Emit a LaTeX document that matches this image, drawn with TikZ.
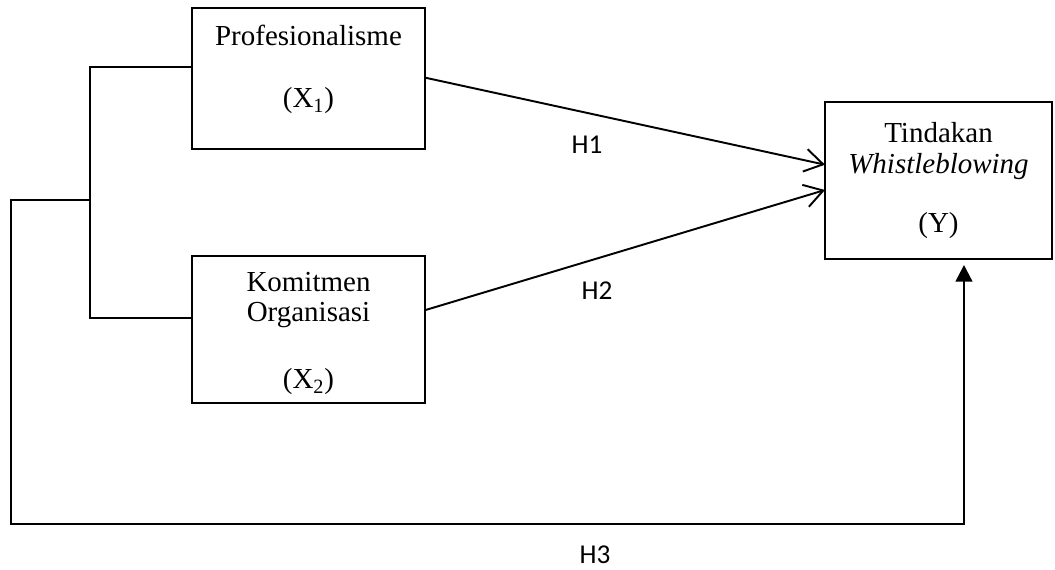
\documentclass[tikz,border=0pt]{standalone}
\usepackage{fontspec}
\setmainfont{Liberation Serif}
\newfontfamily\hfont{Carlito}
\usetikzlibrary{arrows.meta}

\begin{document}
\begin{tikzpicture}[x = 0.02cm, y = -0.02cm,
			varbox/.style = {draw, line width = 0.8pt, rectangle, inner sep = 0pt, outer sep = 0pt},
			boxtext/.style = {font = \fontsize{16.5}{19}\selectfont},
			hyp/.style = {font = \hfont\fontsize{15.5}{18}\selectfont},
			link/.style = {line width = 1.1pt},
			barb/.style = {line width = 1.1pt, -{Straight Barb[length = 10.5pt, width = 13pt, line width = 1.1pt]}},
			tri/.style = {line width = 1.3pt, -{Triangle[length = 9.5pt, width = 9.5pt]}}]
			\useasboundingbox (0,0) rectangle (1055,569);
			\node (p) at (308.5,78.5) [varbox, minimum width = 4.66cm, minimum height = 2.82cm] {};
			\node (k) at (308.5,329.5) [varbox, minimum width = 4.66cm, minimum height = 2.94cm] {};
			\node (y) at (938.5,180.5) [varbox, minimum width = 4.54cm, minimum height = 3.14cm] {};
			\node (p1) at (308.5,35) [boxtext] {Profesionalisme};
			\node (p2) at (308.5,101) [boxtext] {(X\textsubscript{1})};
			\node (k1) at (308.5,282) [boxtext] {Komitmen};
			\node (k2) at (308.5,315) [boxtext] {Organisasi};
			\node (k3) at (308.5,382) [boxtext] {(X\textsubscript{2})};
			\node (y1) at (938.5,133) [boxtext] {Tindakan};
			\node (y2) at (938.5,167) [boxtext] {\itshape Whistleblowing};
			\node (y3) at (938.5,226) [boxtext] {(Y)};
			\node (h1) at (587,145) [hyp] {H1};
			\node (h2) at (597,291) [hyp] {H2};
			\node (h3) at (595,555) [hyp] {H3};
			\coordinate (j) at (90,200);
			\coordinate (c) at (11,524);
			\draw[link] ([yshift = 6.5pt]p.west) -- ++(-102,0) |- ([yshift = 6.5pt]k.west);
			\draw[barb] ([yshift = 0.5pt]p.east) -- ([yshift = 9pt]y.west);
			\draw[barb] ([yshift = 11pt]k.east) -- ([yshift = -5.4pt]y.west);
			\draw[tri, shorten > = 3.4pt] (j) -| (c) -| ([xshift = 14.5pt]y.south);
			\end{tikzpicture}
\end{document}
